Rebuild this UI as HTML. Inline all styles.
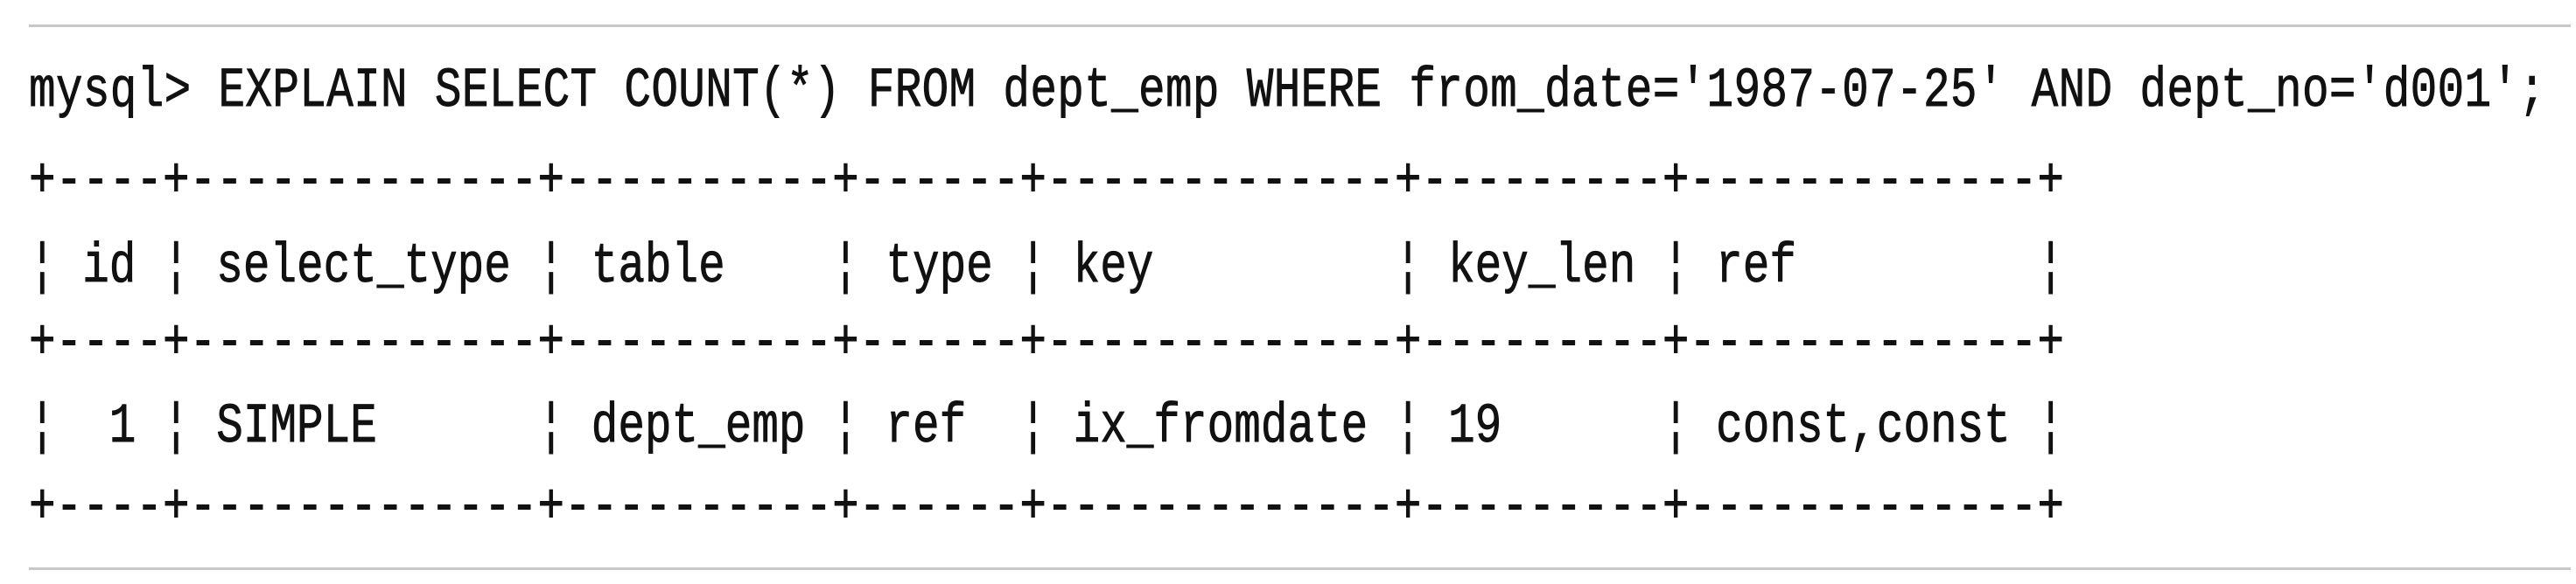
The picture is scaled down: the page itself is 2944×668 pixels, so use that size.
<!DOCTYPE html>
<html><head><meta charset="utf-8"><style>
html,body{margin:0;padding:0;background:#fff;width:2944px;height:668px;overflow:hidden}
text{font-family:"Liberation Mono",monospace;font-size:51px;fill:#111;stroke:#111;stroke-width:0.7px;white-space:pre}
</style></head><body>
<svg width="2944" height="668" xmlns="http://www.w3.org/2000/svg">
<rect x="33" y="28" width="2905" height="3" fill="#c8c8c8"/>
<rect x="33" y="649" width="2905" height="3" fill="#c8c8c8"/>
<g transform="translate(33,121) scale(1,1.25)"><text x="0" y="0" textLength="2876" lengthAdjust="spacing" xml:space="preserve">mysql&gt; EXPLAIN SELECT COUNT(*) FROM dept_emp WHERE from_date='1987-07-25' AND dept_no='d001';</text></g>
<g transform="translate(33,224) scale(1,1.25)"><text x="0" y="0" textLength="2326" lengthAdjust="spacing" xml:space="preserve">+----+-------------+----------+------+-------------+---------+-------------+</text></g>
<g transform="translate(33,322) scale(1,1.25)"><text x="0" y="0" textLength="2326" lengthAdjust="spacing" xml:space="preserve">¦ id ¦ select_type ¦ table    ¦ type ¦ key         ¦ key_len ¦ ref         ¦</text></g>
<g transform="translate(33,409) scale(1,1.25)"><text x="0" y="0" textLength="2326" lengthAdjust="spacing" xml:space="preserve">+----+-------------+----------+------+-------------+---------+-------------+</text></g>
<g transform="translate(33,505) scale(1,1.25)"><text x="0" y="0" textLength="2326" lengthAdjust="spacing" xml:space="preserve">¦  1 ¦ SIMPLE      ¦ dept_emp ¦ ref  ¦ ix_fromdate ¦ 19      ¦ const,const ¦</text></g>
<g transform="translate(33,597) scale(1,1.25)"><text x="0" y="0" textLength="2326" lengthAdjust="spacing" xml:space="preserve">+----+-------------+----------+------+-------------+---------+-------------+</text></g>
</svg>
</body></html>
